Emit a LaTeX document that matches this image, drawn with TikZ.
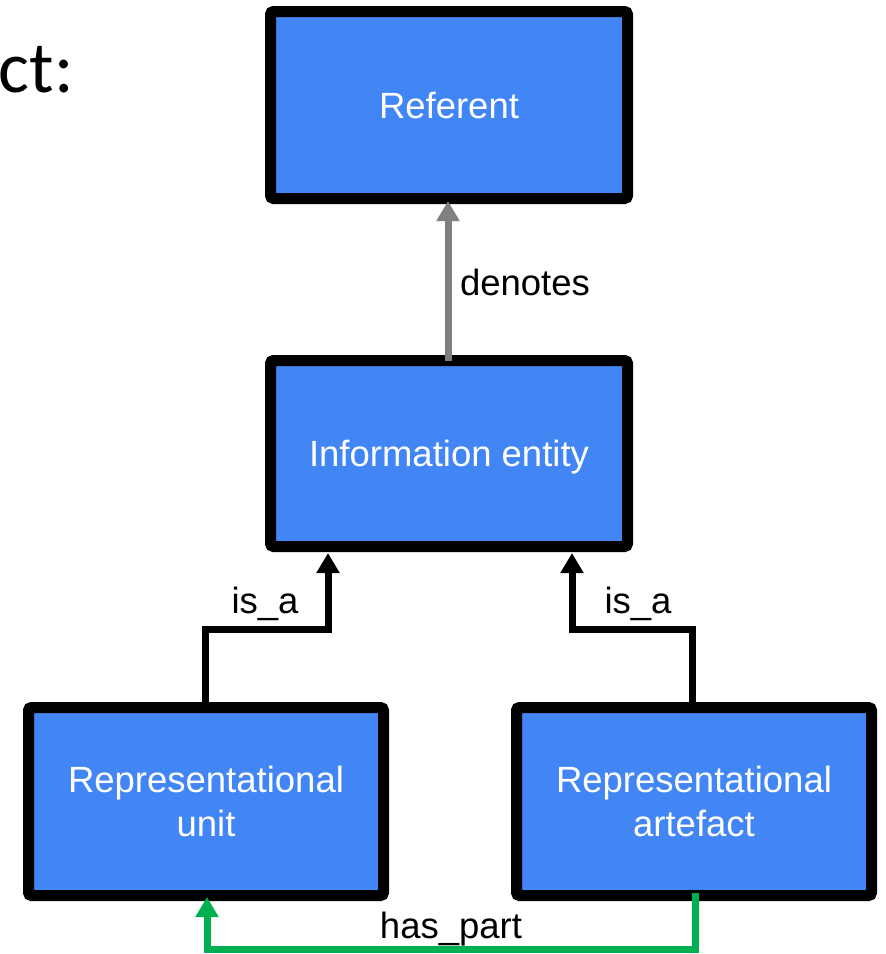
\documentclass[tikz,border=0pt]{standalone}
\usepackage{fontspec}
\setmainfont{Liberation Sans}
\newfontfamily\calib{Carlito}
\usetikzlibrary{arrows.meta}
\definecolor{boxblue}{HTML}{4285F4}
\definecolor{hpgreen}{HTML}{00B050}
\definecolor{dngray}{HTML}{808080}
\begin{document}
\begin{tikzpicture}[x=1pt,y=-1pt,
  ent/.style={draw=black, line width=11pt, fill=boxblue, rounded corners=3pt,
    inner sep=0pt, outer sep=0pt, text=white, align=center,
    font=\fontsize{36.5pt}{44pt}\selectfont},
  lbl/.style={font=\fontsize{36.5pt}{44pt}\selectfont, inner sep=0pt, anchor=base},
  isa/.style={draw=black, line width=7pt, -{Triangle[width=22pt,length=20pt]}},
  dn/.style={draw=dngray, line width=7pt, -{Triangle[width=22pt,length=20pt]}},
  hp/.style={draw=hpgreen, line width=7pt, -{Triangle[width=22pt,length=20pt]}}]
\useasboundingbox (0,0) rectangle (886,954);
\node[ent, minimum width=357pt, minimum height=187pt] (ref) at (449,105) {Referent};
\node[ent, minimum width=357pt, minimum height=186pt, text depth=0pt] (info) at (449,453.5) {Information entity};
\node[ent, minimum width=355pt, minimum height=188pt] (ru) at (206,801.5) {Representational\\unit};
\node[ent, minimum width=355pt, minimum height=188pt] (ra) at (694,801.5) {Representational\\artefact};
\node[font=\calib\fontsize{73pt}{80pt}\selectfont, inner sep=0pt, anchor=base east] (ct) at (74,92) {ct:};
% connectors
\draw[dn, shorten >=2.5pt] ([xshift=-1pt]info.north) -- ([xshift=-1pt]ref.south);
\coordinate (isaL) at (328,629);
\coordinate (isaR) at (572,629);
\draw[isa, shorten >=6.5pt] ([xshift=-1pt]ru.north) |- (isaL) -- (isaL |- info.south);
\draw[isa, shorten >=6.5pt] ([xshift=-2pt]ra.north) |- (isaR) -- (isaR |- info.south);
\coordinate (hpL) at (207,949);
\draw[hp, shorten >=1.5pt] ([xshift=1pt,yshift=2.5pt]ra.south) |- (hpL) -- (hpL |- ru.south);
% labels
\node[lbl] (ldn) at (525,295) {denotes};
\node[lbl] (lisaL) at (265,613) {is\_a};
\node[lbl] (lisaR) at (638,613) {is\_a};
\node[lbl] (lhp) at (451,938) {has\_part};
\end{tikzpicture}
\end{document}
